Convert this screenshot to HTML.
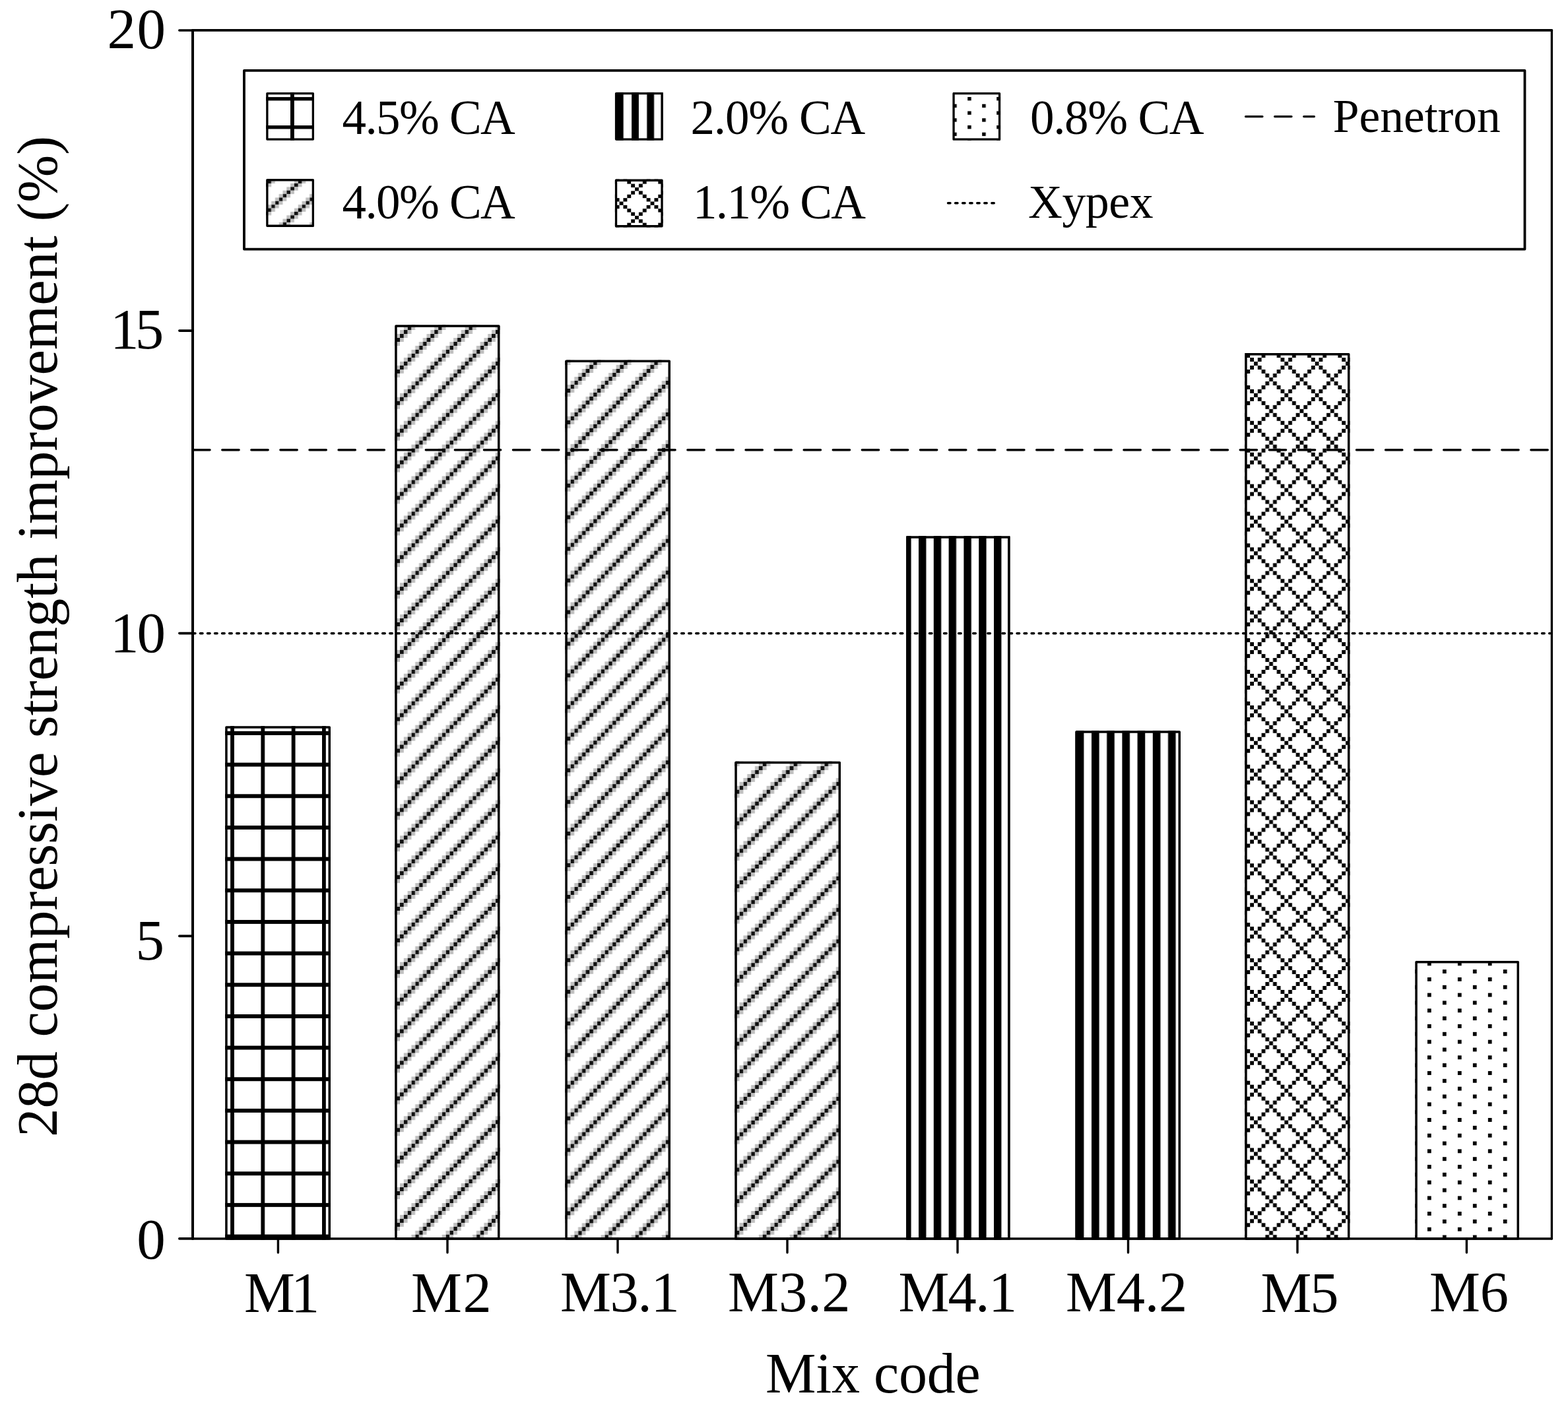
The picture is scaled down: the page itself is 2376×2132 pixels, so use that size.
<!DOCTYPE html>
<html><head><meta charset="utf-8"><title>28d compressive strength improvement</title>
<style>html,body{margin:0;padding:0;background:#fff;width:2376px;height:2132px;overflow:hidden}svg{display:block}</style>
</head><body>
<svg width="2376" height="2132" viewBox="0 0 2376 2132" font-family="'Liberation Serif', 'Times New Roman', serif" fill="#000"><defs><pattern id="p0" patternUnits="userSpaceOnUse" x="349.1" y="1108" width="46.3" height="47.66"><rect x="0" y="0" width="5.79" height="47.66" fill="#000"/><rect x="0" y="0" width="46.3" height="5.96" fill="#000"/></pattern><pattern id="p1" patternUnits="userSpaceOnUse" x="606" y="506" width="46.35" height="47.89"><rect x="0" y="0" width="5.79" height="5.99" fill="#111"/><rect x="40.56" y="0" width="5.79" height="5.99" fill="#c0c0c0"/><rect x="5.79" y="0" width="5.79" height="5.99" fill="#c0c0c0"/><rect x="40.56" y="5.99" width="5.79" height="5.99" fill="#111"/><rect x="34.76" y="5.99" width="5.79" height="5.99" fill="#c0c0c0"/><rect x="0" y="5.99" width="5.79" height="5.99" fill="#c0c0c0"/><rect x="34.76" y="11.97" width="5.79" height="5.99" fill="#111"/><rect x="28.97" y="11.97" width="5.79" height="5.99" fill="#c0c0c0"/><rect x="40.56" y="11.97" width="5.79" height="5.99" fill="#c0c0c0"/><rect x="28.97" y="17.96" width="5.79" height="5.99" fill="#111"/><rect x="23.18" y="17.96" width="5.79" height="5.99" fill="#c0c0c0"/><rect x="34.76" y="17.96" width="5.79" height="5.99" fill="#c0c0c0"/><rect x="23.18" y="23.94" width="5.79" height="5.99" fill="#111"/><rect x="17.38" y="23.94" width="5.79" height="5.99" fill="#c0c0c0"/><rect x="28.97" y="23.94" width="5.79" height="5.99" fill="#c0c0c0"/><rect x="17.38" y="29.93" width="5.79" height="5.99" fill="#111"/><rect x="11.59" y="29.93" width="5.79" height="5.99" fill="#c0c0c0"/><rect x="23.18" y="29.93" width="5.79" height="5.99" fill="#c0c0c0"/><rect x="11.59" y="35.92" width="5.79" height="5.99" fill="#111"/><rect x="5.79" y="35.92" width="5.79" height="5.99" fill="#c0c0c0"/><rect x="17.38" y="35.92" width="5.79" height="5.99" fill="#c0c0c0"/><rect x="5.79" y="41.9" width="5.79" height="5.99" fill="#111"/><rect x="0" y="41.9" width="5.79" height="5.99" fill="#c0c0c0"/><rect x="11.59" y="41.9" width="5.79" height="5.99" fill="#c0c0c0"/></pattern><pattern id="p2" patternUnits="userSpaceOnUse" x="893.3" y="553" width="46.1" height="47.94"><rect x="0" y="0" width="5.76" height="5.99" fill="#111"/><rect x="40.34" y="0" width="5.76" height="5.99" fill="#c0c0c0"/><rect x="5.76" y="0" width="5.76" height="5.99" fill="#c0c0c0"/><rect x="40.34" y="5.99" width="5.76" height="5.99" fill="#111"/><rect x="34.58" y="5.99" width="5.76" height="5.99" fill="#c0c0c0"/><rect x="0" y="5.99" width="5.76" height="5.99" fill="#c0c0c0"/><rect x="34.58" y="11.98" width="5.76" height="5.99" fill="#111"/><rect x="28.81" y="11.98" width="5.76" height="5.99" fill="#c0c0c0"/><rect x="40.34" y="11.98" width="5.76" height="5.99" fill="#c0c0c0"/><rect x="28.81" y="17.98" width="5.76" height="5.99" fill="#111"/><rect x="23.05" y="17.98" width="5.76" height="5.99" fill="#c0c0c0"/><rect x="34.58" y="17.98" width="5.76" height="5.99" fill="#c0c0c0"/><rect x="23.05" y="23.97" width="5.76" height="5.99" fill="#111"/><rect x="17.29" y="23.97" width="5.76" height="5.99" fill="#c0c0c0"/><rect x="28.81" y="23.97" width="5.76" height="5.99" fill="#c0c0c0"/><rect x="17.29" y="29.96" width="5.76" height="5.99" fill="#111"/><rect x="11.53" y="29.96" width="5.76" height="5.99" fill="#c0c0c0"/><rect x="23.05" y="29.96" width="5.76" height="5.99" fill="#c0c0c0"/><rect x="11.53" y="35.95" width="5.76" height="5.99" fill="#111"/><rect x="5.76" y="35.95" width="5.76" height="5.99" fill="#c0c0c0"/><rect x="17.29" y="35.95" width="5.76" height="5.99" fill="#c0c0c0"/><rect x="5.76" y="41.94" width="5.76" height="5.99" fill="#111"/><rect x="0" y="41.94" width="5.76" height="5.99" fill="#c0c0c0"/><rect x="11.53" y="41.94" width="5.76" height="5.99" fill="#c0c0c0"/></pattern><pattern id="p3" patternUnits="userSpaceOnUse" x="1149.8" y="1161" width="46.84" height="47.72"><rect x="0" y="0" width="5.86" height="5.96" fill="#111"/><rect x="40.98" y="0" width="5.86" height="5.96" fill="#c0c0c0"/><rect x="5.86" y="0" width="5.86" height="5.96" fill="#c0c0c0"/><rect x="40.98" y="5.96" width="5.86" height="5.96" fill="#111"/><rect x="35.13" y="5.96" width="5.86" height="5.96" fill="#c0c0c0"/><rect x="0" y="5.96" width="5.86" height="5.96" fill="#c0c0c0"/><rect x="35.13" y="11.93" width="5.86" height="5.96" fill="#111"/><rect x="29.28" y="11.93" width="5.86" height="5.96" fill="#c0c0c0"/><rect x="40.98" y="11.93" width="5.86" height="5.96" fill="#c0c0c0"/><rect x="29.28" y="17.89" width="5.86" height="5.96" fill="#111"/><rect x="23.42" y="17.89" width="5.86" height="5.96" fill="#c0c0c0"/><rect x="35.13" y="17.89" width="5.86" height="5.96" fill="#c0c0c0"/><rect x="23.42" y="23.86" width="5.86" height="5.96" fill="#111"/><rect x="17.57" y="23.86" width="5.86" height="5.96" fill="#c0c0c0"/><rect x="29.28" y="23.86" width="5.86" height="5.96" fill="#c0c0c0"/><rect x="17.57" y="29.82" width="5.86" height="5.96" fill="#111"/><rect x="11.71" y="29.82" width="5.86" height="5.96" fill="#c0c0c0"/><rect x="23.42" y="29.82" width="5.86" height="5.96" fill="#c0c0c0"/><rect x="11.71" y="35.79" width="5.86" height="5.96" fill="#111"/><rect x="5.86" y="35.79" width="5.86" height="5.96" fill="#c0c0c0"/><rect x="17.57" y="35.79" width="5.86" height="5.96" fill="#c0c0c0"/><rect x="5.86" y="41.75" width="5.86" height="5.96" fill="#111"/><rect x="0" y="41.75" width="5.86" height="5.96" fill="#c0c0c0"/><rect x="11.71" y="41.75" width="5.86" height="5.96" fill="#c0c0c0"/></pattern><pattern id="p4" patternUnits="userSpaceOnUse" x="1392" y="0" width="45.6" height="48"><rect x="0" y="0" width="11.4" height="48" fill="#000"/><rect x="22.8" y="0" width="11.4" height="48" fill="#000"/></pattern><pattern id="p5" patternUnits="userSpaceOnUse" x="1654" y="0" width="46.4" height="48"><rect x="0" y="0" width="11.6" height="48" fill="#000"/><rect x="23.2" y="0" width="11.6" height="48" fill="#000"/></pattern><pattern id="p6" patternUnits="userSpaceOnUse" x="1900" y="548" width="46.35" height="47.9"><rect x="0" y="0" width="5.79" height="5.99" fill="#000"/><rect x="5.79" y="5.99" width="5.79" height="5.99" fill="#000"/><rect x="40.56" y="5.99" width="5.79" height="5.99" fill="#000"/><rect x="11.59" y="11.97" width="5.79" height="5.99" fill="#000"/><rect x="34.76" y="11.97" width="5.79" height="5.99" fill="#000"/><rect x="17.38" y="17.96" width="5.79" height="5.99" fill="#000"/><rect x="28.97" y="17.96" width="5.79" height="5.99" fill="#000"/><rect x="23.18" y="23.95" width="5.79" height="5.99" fill="#000"/><rect x="17.38" y="29.94" width="5.79" height="5.99" fill="#000"/><rect x="28.97" y="29.94" width="5.79" height="5.99" fill="#000"/><rect x="11.59" y="35.92" width="5.79" height="5.99" fill="#000"/><rect x="34.76" y="35.92" width="5.79" height="5.99" fill="#000"/><rect x="5.79" y="41.91" width="5.79" height="5.99" fill="#000"/><rect x="40.56" y="41.91" width="5.79" height="5.99" fill="#000"/></pattern><pattern id="p7" patternUnits="userSpaceOnUse" x="2163" y="1481" width="45.92" height="47.34"><rect x="0" y="0" width="5.74" height="5.92" fill="#000"/><rect x="22.96" y="11.83" width="5.74" height="5.92" fill="#000"/><rect x="0" y="23.67" width="5.74" height="5.92" fill="#000"/><rect x="22.96" y="35.5" width="5.74" height="5.92" fill="#000"/></pattern><pattern id="l0" patternUnits="userSpaceOnUse" x="440" y="147.1" width="46.4" height="42.96"><rect x="0" y="0" width="5.8" height="42.96" fill="#000"/><rect x="0" y="0" width="46.4" height="5.37" fill="#000"/></pattern><pattern id="l1" patternUnits="userSpaceOnUse" x="445.9" y="277.9" width="46.4" height="42.96"><rect x="0" y="0" width="5.8" height="5.37" fill="#111"/><rect x="40.6" y="0" width="5.8" height="5.37" fill="#c0c0c0"/><rect x="5.8" y="0" width="5.8" height="5.37" fill="#c0c0c0"/><rect x="40.6" y="5.37" width="5.8" height="5.37" fill="#111"/><rect x="34.8" y="5.37" width="5.8" height="5.37" fill="#c0c0c0"/><rect x="0" y="5.37" width="5.8" height="5.37" fill="#c0c0c0"/><rect x="34.8" y="10.74" width="5.8" height="5.37" fill="#111"/><rect x="29" y="10.74" width="5.8" height="5.37" fill="#c0c0c0"/><rect x="40.6" y="10.74" width="5.8" height="5.37" fill="#c0c0c0"/><rect x="29" y="16.11" width="5.8" height="5.37" fill="#111"/><rect x="23.2" y="16.11" width="5.8" height="5.37" fill="#c0c0c0"/><rect x="34.8" y="16.11" width="5.8" height="5.37" fill="#c0c0c0"/><rect x="23.2" y="21.48" width="5.8" height="5.37" fill="#111"/><rect x="17.4" y="21.48" width="5.8" height="5.37" fill="#c0c0c0"/><rect x="29" y="21.48" width="5.8" height="5.37" fill="#c0c0c0"/><rect x="17.4" y="26.85" width="5.8" height="5.37" fill="#111"/><rect x="11.6" y="26.85" width="5.8" height="5.37" fill="#c0c0c0"/><rect x="23.2" y="26.85" width="5.8" height="5.37" fill="#c0c0c0"/><rect x="11.6" y="32.22" width="5.8" height="5.37" fill="#111"/><rect x="5.8" y="32.22" width="5.8" height="5.37" fill="#c0c0c0"/><rect x="17.4" y="32.22" width="5.8" height="5.37" fill="#c0c0c0"/><rect x="5.8" y="37.59" width="5.8" height="5.37" fill="#111"/><rect x="0" y="37.59" width="5.8" height="5.37" fill="#c0c0c0"/><rect x="11.6" y="37.59" width="5.8" height="5.37" fill="#c0c0c0"/></pattern><pattern id="l2" patternUnits="userSpaceOnUse" x="957.1" y="0" width="46.4" height="42.96"><rect x="0" y="0" width="10.8" height="42.96" fill="#000"/><rect x="23.2" y="0" width="10.8" height="42.96" fill="#000"/></pattern><pattern id="l3" patternUnits="userSpaceOnUse" x="962.1" y="284" width="47" height="42.96"><rect x="0" y="0" width="5.88" height="5.37" fill="#000"/><rect x="5.88" y="5.37" width="5.88" height="5.37" fill="#000"/><rect x="41.12" y="5.37" width="5.88" height="5.37" fill="#000"/><rect x="11.75" y="10.74" width="5.88" height="5.37" fill="#000"/><rect x="35.25" y="10.74" width="5.88" height="5.37" fill="#000"/><rect x="17.62" y="16.11" width="5.88" height="5.37" fill="#000"/><rect x="29.38" y="16.11" width="5.88" height="5.37" fill="#000"/><rect x="23.5" y="21.48" width="5.88" height="5.37" fill="#000"/><rect x="17.62" y="26.85" width="5.88" height="5.37" fill="#000"/><rect x="29.38" y="26.85" width="5.88" height="5.37" fill="#000"/><rect x="11.75" y="32.22" width="5.88" height="5.37" fill="#000"/><rect x="35.25" y="32.22" width="5.88" height="5.37" fill="#000"/><rect x="5.88" y="37.59" width="5.88" height="5.37" fill="#000"/><rect x="41.12" y="37.59" width="5.88" height="5.37" fill="#000"/></pattern><pattern id="l4" patternUnits="userSpaceOnUse" x="1466.2" y="147" width="44" height="42.96"><rect x="0" y="0" width="5.5" height="5.37" fill="#000"/><rect x="22" y="10.74" width="5.5" height="5.37" fill="#000"/><rect x="0" y="21.48" width="5.5" height="5.37" fill="#000"/><rect x="22" y="32.22" width="5.5" height="5.37" fill="#000"/></pattern></defs><rect width="2376" height="2132" fill="#fff"/><rect x="341.2" y="1100.2" width="159.8" height="778.5" fill="#fff"/>
<rect x="341.2" y="1100.2" width="159.8" height="778.5" fill="url(#p0)"/>
<rect x="342.95" y="1101.95" width="156.3" height="775" fill="none" stroke="#000" stroke-linejoin="round" stroke-width="3.5"/>
<rect x="598.2" y="492.2" width="159.3" height="1386.5" fill="#fff"/>
<rect x="598.2" y="492.2" width="159.3" height="1386.5" fill="url(#p1)"/>
<rect x="599.95" y="493.95" width="155.8" height="1383" fill="none" stroke="#000" stroke-linejoin="round" stroke-width="3.5"/>
<rect x="856.3" y="545.6" width="159.7" height="1333.1" fill="#fff"/>
<rect x="856.3" y="545.6" width="159.7" height="1333.1" fill="url(#p2)"/>
<rect x="858.05" y="547.35" width="156.2" height="1329.6" fill="none" stroke="#000" stroke-linejoin="round" stroke-width="3.5"/>
<rect x="1113.3" y="1153.7" width="160.7" height="725" fill="#fff"/>
<rect x="1113.3" y="1153.7" width="160.7" height="725" fill="url(#p3)"/>
<rect x="1115.05" y="1155.45" width="157.2" height="721.5" fill="none" stroke="#000" stroke-linejoin="round" stroke-width="3.5"/>
<rect x="1373.2" y="812.2" width="157.3" height="1066.5" fill="#fff"/>
<rect x="1373.2" y="812.2" width="157.3" height="1066.5" fill="url(#p4)"/>
<rect x="1374.95" y="813.95" width="153.8" height="1063" fill="none" stroke="#000" stroke-linejoin="round" stroke-width="3.5"/>
<rect x="1629.2" y="1107.3" width="159.8" height="771.4" fill="#fff"/>
<rect x="1629.2" y="1107.3" width="159.8" height="771.4" fill="url(#p5)"/>
<rect x="1630.95" y="1109.05" width="156.3" height="767.9" fill="none" stroke="#000" stroke-linejoin="round" stroke-width="3.5"/>
<rect x="1886.2" y="535.1" width="159.3" height="1343.6" fill="#fff"/>
<rect x="1886.2" y="535.1" width="159.3" height="1343.6" fill="url(#p6)"/>
<rect x="1887.95" y="536.85" width="155.8" height="1340.1" fill="none" stroke="#000" stroke-linejoin="round" stroke-width="3.5"/>
<rect x="2144.3" y="1456.1" width="157.7" height="422.6" fill="#fff"/>
<rect x="2144.3" y="1456.1" width="157.7" height="422.6" fill="url(#p7)"/>
<rect x="2146.05" y="1457.85" width="154.2" height="419.1" fill="none" stroke="#000" stroke-linejoin="round" stroke-width="3.5"/>
<line x1="291" y1="681.8" x2="2349" y2="681.8" stroke="#000" stroke-width="3.4" stroke-linecap="round" stroke-dasharray="25.3 18.77" stroke-dashoffset="-1.7"/>
<line x1="292.4" y1="959.8" x2="2349" y2="959.8" stroke="#000" stroke-width="3.6" stroke-linecap="round" stroke-dasharray="3.5 7.55"/>
<line x1="292" y1="45.95" x2="2351.4" y2="45.95" stroke="#000" stroke-width="3.7" stroke-linecap="round"/>
<line x1="2351.4" y1="45.95" x2="2351.4" y2="1876.95" stroke="#000" stroke-width="3.35" stroke-linecap="round"/>
<line x1="292" y1="1876.95" x2="2351.4" y2="1876.95" stroke="#000" stroke-width="3.6" stroke-linecap="round"/>
<line x1="292" y1="45.95" x2="292" y2="1876.95" stroke="#000" stroke-width="4.0" stroke-linecap="round"/>
<line x1="271.8" y1="46" x2="292" y2="46" stroke="#000" stroke-width="3.6" stroke-linecap="round"/>
<line x1="271.8" y1="501.1" x2="292" y2="501.1" stroke="#000" stroke-width="3.6" stroke-linecap="round"/>
<line x1="271.8" y1="959.6" x2="292" y2="959.6" stroke="#000" stroke-width="3.6" stroke-linecap="round"/>
<line x1="271.8" y1="1418.4" x2="292" y2="1418.4" stroke="#000" stroke-width="3.6" stroke-linecap="round"/>
<line x1="271.8" y1="1876.9" x2="292" y2="1876.9" stroke="#000" stroke-width="3.6" stroke-linecap="round"/>
<line x1="421.4" y1="1877" x2="421.4" y2="1898.1" stroke="#000" stroke-width="3.4" stroke-linecap="round"/>
<line x1="678" y1="1877" x2="678" y2="1898.1" stroke="#000" stroke-width="3.4" stroke-linecap="round"/>
<line x1="936" y1="1877" x2="936" y2="1898.1" stroke="#000" stroke-width="3.4" stroke-linecap="round"/>
<line x1="1193" y1="1877" x2="1193" y2="1898.1" stroke="#000" stroke-width="3.4" stroke-linecap="round"/>
<line x1="1451" y1="1877" x2="1451" y2="1898.1" stroke="#000" stroke-width="3.4" stroke-linecap="round"/>
<line x1="1709.5" y1="1877" x2="1709.5" y2="1898.1" stroke="#000" stroke-width="3.4" stroke-linecap="round"/>
<line x1="1966" y1="1877" x2="1966" y2="1898.1" stroke="#000" stroke-width="3.4" stroke-linecap="round"/>
<line x1="2222.4" y1="1877" x2="2222.4" y2="1898.1" stroke="#000" stroke-width="3.4" stroke-linecap="round"/>
<rect x="369.95" y="106.9" width="1940.55" height="270.65" fill="#fff" stroke="#000" stroke-linejoin="round" stroke-width="3.8"/>
<rect x="403.2" y="139.9" width="72.8" height="72.8" fill="url(#l0)"/>
<rect x="404.85" y="141.55" width="69.5" height="69.5" fill="none" stroke="#000" stroke-linejoin="round" stroke-width="3.3"/>
<rect x="403.2" y="271.1" width="72.8" height="72.8" fill="url(#l1)"/>
<rect x="404.85" y="272.75" width="69.5" height="69.5" fill="none" stroke="#000" stroke-linejoin="round" stroke-width="3.3"/>
<rect x="931.9" y="139.9" width="72.8" height="72.8" fill="url(#l2)"/>
<rect x="933.55" y="141.55" width="69.5" height="69.5" fill="none" stroke="#000" stroke-linejoin="round" stroke-width="3.3"/>
<rect x="931.9" y="271.6" width="72.8" height="72.8" fill="url(#l3)"/>
<rect x="933.55" y="273.25" width="69.5" height="69.5" fill="none" stroke="#000" stroke-linejoin="round" stroke-width="3.3"/>
<rect x="1443.4" y="140" width="72.8" height="72.8" fill="url(#l4)"/>
<rect x="1445.05" y="141.65" width="69.5" height="69.5" fill="none" stroke="#000" stroke-linejoin="round" stroke-width="3.3"/>
<line x1="1887.6" y1="176.6" x2="1991.4" y2="176.6" stroke="#000" stroke-width="3.4" stroke-linecap="round" stroke-dasharray="25.3 18.77"/>
<line x1="1436.5" y1="307.7" x2="1506.5" y2="307.7" stroke="#000" stroke-width="3.4" stroke-linecap="round" stroke-dasharray="3.5 7.55"/>
<text id="t20" x="162.5" y="72.86" font-size="87" textLength="88.6" lengthAdjust="spacing">20</text>
<text id="t15" x="167" y="528.35" font-size="87" textLength="81.2" lengthAdjust="spacing">15</text>
<text id="t10" x="167" y="987.86" font-size="87" textLength="84" lengthAdjust="spacing">10</text>
<text id="t5" x="205.5" y="1453.85" font-size="87">5</text>
<text id="t0" x="207.2" y="1906.86" font-size="87">0</text>
<text id="xM1" x="370" y="1987.52" font-size="86.5" textLength="114.37" lengthAdjust="spacing">M1</text>
<text id="xM2" x="623" y="1987.52" font-size="86.5" textLength="121.77" lengthAdjust="spacing">M2</text>
<text id="xM31" x="849" y="1986.52" font-size="86.5" textLength="180.65" lengthAdjust="spacing">M3.1</text>
<text id="xM32" x="1103" y="1986.52" font-size="86.5" textLength="185.45" lengthAdjust="spacing">M3.2</text>
<text id="xM41" x="1361.5" y="1986.52" font-size="86.5" textLength="179.65" lengthAdjust="spacing">M4.1</text>
<text id="xM42" x="1615" y="1986.52" font-size="86.5" textLength="184.25" lengthAdjust="spacing">M4.2</text>
<text id="xM5" x="1910.5" y="1987.52" font-size="86.5" textLength="117.97" lengthAdjust="spacing">M5</text>
<text id="xM6" x="2166" y="1986.52" font-size="86.5" textLength="119.97" lengthAdjust="spacing">M6</text>
<text id="xt" x="1160" y="2109.89" font-size="86" textLength="325.6" lengthAdjust="spacing">Mix code</text>
<text id="l45" x="518.5" y="202.55" font-size="73" textLength="262.32" lengthAdjust="spacing">4.5% CA</text>
<text id="l40" x="518.5" y="331.29" font-size="73" textLength="262.32" lengthAdjust="spacing">4.0% CA</text>
<text id="l20" x="1046.5" y="202.55" font-size="73" textLength="264.72" lengthAdjust="spacing">2.0% CA</text>
<text id="l11" x="1050" y="331.29" font-size="73" textLength="261.92" lengthAdjust="spacing">1.1% CA</text>
<text id="l08" x="1561" y="202.55" font-size="73" textLength="263.52" lengthAdjust="spacing">0.8% CA</text>
<text id="lxy" x="1558" y="330.25" font-size="71.8" textLength="189.62" lengthAdjust="spacing">Xypex</text>
<text id="lpe" x="2019.75" y="200.05" font-size="71.5" textLength="253.97" lengthAdjust="spacing">Penetron</text>
<text transform="translate(86 964.4) rotate(-90)" text-anchor="middle" font-size="86.5" textLength="1516.8" lengthAdjust="spacing">28d compressive strength improvement (%)</text></svg>
</body></html>
